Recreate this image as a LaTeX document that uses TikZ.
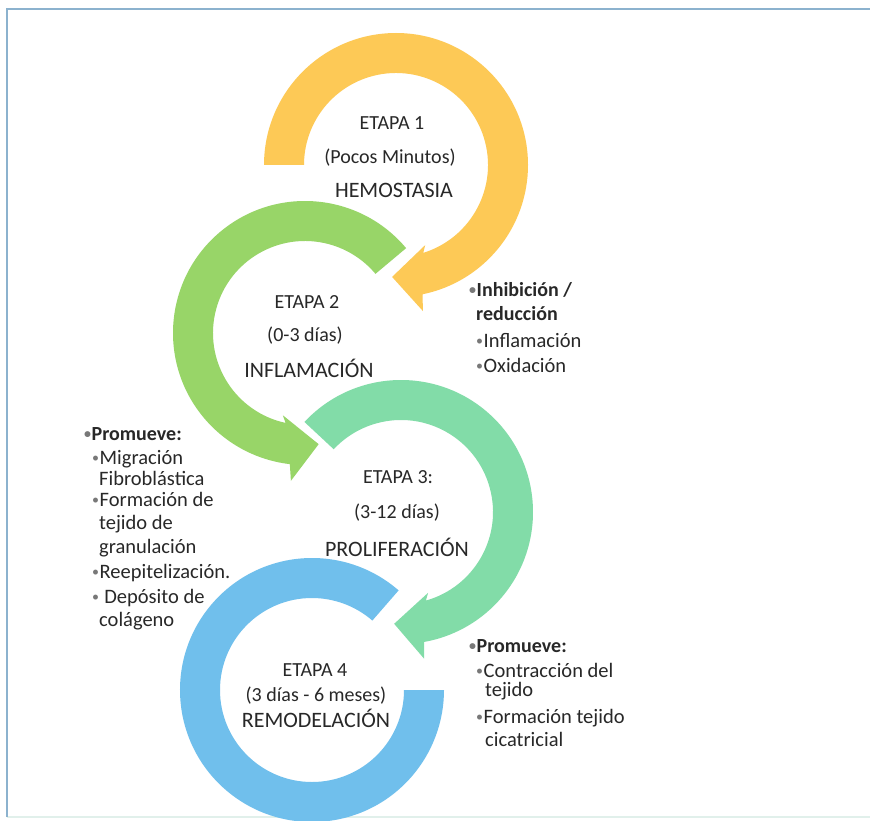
\documentclass[tikz,border=0pt]{standalone}
\usepackage{fontspec}
\setmainfont{Carlito}
\definecolor{cyellow}{RGB}{253,201,86}
\definecolor{cgreen}{RGB}{152,213,104}
\definecolor{cmint}{RGB}{130,220,168}
\definecolor{cblue}{RGB}{112,191,236}
\definecolor{framec}{RGB}{140,178,206}
\definecolor{framelight}{RGB}{225,240,235}
\definecolor{txt}{RGB}{40,40,40}
\definecolor{bulgray}{RGB}{120,120,120}
\newcommand{\mybul}{\makebox[7.5pt][l]{\color{bulgray}\raisebox{1.8pt}{\fontsize{14}{14}\selectfont\char"2022}}}
% #1 colour, #2 centre, #3 start angle, #4 tip angle, #5 sense (+1 clockwise, -1 counter-clockwise)
\newcommand{\myring}[5]{%
  \fill[#1, shift={#2}] (#3:132)
    arc[start angle=#3, end angle={#4+(#5)*13.6}, radius=132]
    -- ({145*cos(#4)-(#5)*32*sin(#4)}, {145*sin(#4)+(#5)*32*cos(#4)})
    -- (#4:112)
    -- ({79*cos(#4)-(#5)*32*sin(#4)}, {79*sin(#4)+(#5)*32*cos(#4)})
    -- ({#4+(#5)*19.2}:92)
    arc[start angle={#4+(#5)*19.2}, end angle=#3, radius=92] -- cycle;}
\tikzset{
  stage/.style={font=\fontsize{20}{24}\selectfont, text=txt, anchor=base, inner sep=0pt},
  stagecap/.style={stage, font=\fontsize{22}{26}\selectfont},
  side/.style={font=\fontsize{20.5}{24}\selectfont, text=txt, anchor=base west, inner sep=0pt},
  sideb/.style={side, font=\bfseries\fontsize{20}{24}\selectfont}
}
\begin{document}
\begin{tikzpicture}[x=1pt,y=1pt]
\fill[white] (0,0) rectangle (870,-821);
\useasboundingbox (0,0) rectangle (870,-821);
% frame
\draw[framelight, line width=1.5pt] (7,-817) -- (870,-817);
\draw[framec, line width=1.3pt] (7,-817) -- (7,-9) -- (870,-9);
% rings
\fill[cblue, shift={(312,-690)}] (49:132) arc[start angle=49, end angle=360, radius=132]
  -- (0:92) arc[start angle=360, end angle=49, radius=92] -- cycle;
\myring{cmint}{(401,-512)}{137}{-93.5}{1}
\myring{cgreen}{(305,-333)}{40}{277}{-1}
\myring{cyellow}{(396,-165)}{180}{-92}{1}
% stage texts
\node[stage] (s1a) at (392,-130) {ETAPA 1};
\node[stage] (s1b) at (390,-164) {(Pocos Minutos)};
\node[stagecap] (s1c) at (394,-198) {HEMOSTASIA};
\node[stage] (s2a) at (307,-308) {ETAPA 2};
\node[stage] (s2b) at (305,-341) {(0-3 días)};
\node[stagecap] (s2c) at (309,-377) {INFLAMACIÓN};
\node[stage] (s3a) at (398,-483) {ETAPA 3:};
\node[stage] (s3b) at (397,-518) {(3-12 días)};
\node[stagecap] (s3c) at (397,-556) {PROLIFERACIÓN};
\node[stage] (s4a) at (315,-676) {ETAPA 4};
\node[stage] (s4b) at (316,-701) {(3 días - 6 meses)};
\node[stagecap] (s4c) at (316,-727) {REMODELACIÓN};
% right top
\node[sideb] (r1) at (469,-296) {\mybul Inhibición /};
\node[sideb] (r2) at (476,-320) {reducción};
\node[side] (r3) at (476,-347) {\mybul Inflamación};
\node[side] (r4) at (476,-372) {\mybul Oxidación};
% left
\node[sideb] (l1) at (84,-440) {\mybul Promueve:};
\node[side] (l2) at (92,-464) {\mybul Migración};
\node[side] (l3) at (99,-485) {Fibroblástica};
\node[side] (l4) at (92,-506) {\mybul Formación de};
\node[side] (l5) at (99,-529) {tejido de};
\node[side] (l6) at (99,-553) {granulación};
\node[side] (l7) at (92,-578) {\mybul Reepitelización.};
\node[side] (l8) at (92,-603) {\mybul\ Depósito de};
\node[side] (l9) at (99,-626) {colágeno};
% right bottom
\node[sideb] (b1) at (469,-652) {\mybul Promueve:};
\node[side] (b2) at (476,-677) {\mybul Contracción del};
\node[side] (b3) at (485,-696) {tejido};
\node[side] (b4) at (476,-723) {\mybul Formación tejido};
\node[side] (b5) at (485,-746) {cicatricial};
\end{tikzpicture}
\end{document}
